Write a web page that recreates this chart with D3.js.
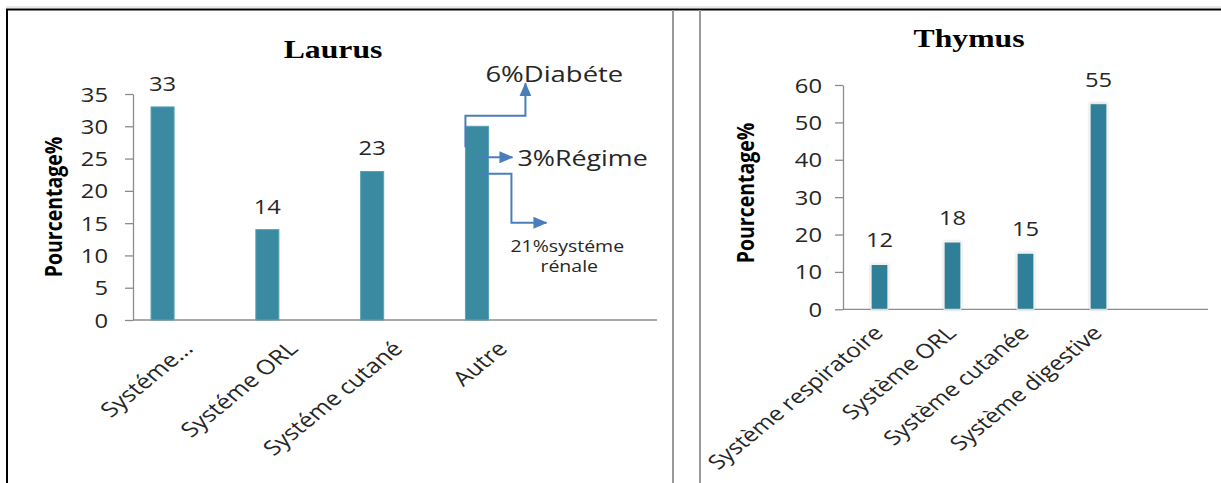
<!DOCTYPE html>
<html>
<head>
<meta charset="utf-8">
<script src="https://cdn.jsdelivr.net/npm/d3@7"></script>
<style>
  html, body { margin: 0; padding: 0; background: #fff; }
  svg { display: block; }
  .num { font-family: "Open Sans", "Noto Sans", sans-serif; fill: #262626; }
</style>
</head>
<body>
<svg id="chart" width="1221" height="483"></svg>
<script>
// Laurus: use by body system (%)
const laurusCategories = ["Systéme...", "Systéme ORL", "Systéme cutané", "Autre"];
const laurusValues = [33, 14, 23, 30];
const laurusTicks = [0, 5, 10, 15, 20, 25, 30, 35];

// Breakdown of the "Autre" share
const autreLabels = ["6%Diabéte", "3%Régime", "21%systéme", "rénale"];

// Thymus: use by body system (%)
const thymusCategories = ["Système respiratoire", "Système ORL", "Système cutanée", "Système digestive"];
const thymusValues = [12, 18, 15, 55];
const thymusTicks = [0, 10, 20, 30, 40, 50, 60];

const SX = 1.22; // horizontal text stretch
const svg = d3.select("#chart");

// arrowhead marker
const defs = svg.append("defs");
defs.append("marker")
  .attr("id", "arrow")
  .attr("viewBox", "0 0 14 12")
  .attr("refX", 13).attr("refY", 6)
  .attr("markerWidth", 14).attr("markerHeight", 12)
  .attr("markerUnits", "userSpaceOnUse")
  .attr("orient", "auto")
  .append("path").attr("d", "M0,0L14,6L0,12Z").attr("fill", "#4a7ebb");

const glow = defs.append("filter").attr("id", "glow")
  .attr("x", "-50%").attr("y", "-10%").attr("width", "200%").attr("height", "120%");
glow.append("feDropShadow").attr("dx", 0).attr("dy", 0).attr("stdDeviation", 1.3)
  .attr("flood-color", "#000").attr("flood-opacity", 0.28);

// page frame
svg.append("line").attr("x1", 6).attr("x2", 1221).attr("y1", 7).attr("y2", 7)
  .attr("stroke", "#d0d0d0").attr("stroke-width", 1);
svg.append("line").attr("x1", 6).attr("x2", 1221).attr("y1", 9.5).attr("y2", 9.5)
  .attr("stroke", "#000").attr("stroke-width", 2);
svg.append("line").attr("x1", 7).attr("x2", 7).attr("y1", 9).attr("y2", 483)
  .attr("stroke", "#000").attr("stroke-width", 2);
[673, 700].forEach(x => svg.append("line")
  .attr("x1", x).attr("x2", x).attr("y1", 10).attr("y2", 483)
  .attr("stroke", "#9a9a9a").attr("stroke-width", 2));

function panel(cfg) {
  const g = svg.append("g");
  const x = d3.scaleBand().domain(cfg.categories).range(cfg.xRange)
    .paddingInner(0).paddingOuter(0.5).align(0);
  const y = d3.scaleLinear().domain([0, cfg.max]).range(cfg.yRange);

  // title
  g.append("text")
    .attr("transform", `translate(${cfg.titleX},${cfg.titleY}) scale(${SX},1)`)
    .attr("text-anchor", "middle")
    .attr("font-family", "'Liberation Serif', 'Times New Roman', serif")
    .attr("font-weight", "bold").attr("font-size", 26).attr("fill", "#000")
    .text(cfg.title);

  // y axis
  const yAxis = g.append("g")
    .attr("transform", `translate(${cfg.xRange[0]},0)`)
    .call(d3.axisLeft(y).tickValues(cfg.ticks).tickSize(8).tickSizeOuter(0));
  yAxis.select(".domain").attr("stroke", "#8c8c8c").attr("stroke-width", 1.3);
  yAxis.selectAll(".tick line").attr("stroke", "#8c8c8c").attr("stroke-width", 1.3);
  yAxis.selectAll(".tick text")
    .attr("x", null).attr("dy", "0.36em")
    .attr("transform", `translate(${-cfg.tickGap},0) scale(${SX},1)`)
    .attr("class", "num").attr("font-size", 19.5).attr("text-anchor", "end");

  // x axis line
  g.append("line")
    .attr("x1", cfg.xRange[0]).attr("x2", cfg.xRange[1])
    .attr("y1", y(0)).attr("y2", y(0))
    .attr("stroke", "#8c8c8c").attr("stroke-width", 1.3);

  // y axis title
  g.append("text")
    .attr("transform", `translate(${cfg.yTitleX},${cfg.yTitleY}) scale(${SX},1) rotate(-90)`)
    .attr("text-anchor", "middle")
    .attr("font-family", "'Open Sans', sans-serif").attr("font-weight", "bold")
    .attr("font-size", 19.5).attr("fill", "#000")
    .text("Pourcentage%");

  const bw = x.bandwidth();
  const barX = c => x(c) + bw * cfg.barOffset;
  const barW = bw * cfg.barWidth;

  // bars
  g.selectAll("rect.bar").data(cfg.categories).join("rect")
    .attr("class", "bar")
    .attr("x", c => barX(c))
    .attr("y", (c, i) => y(cfg.values[i]))
    .attr("width", barW)
    .attr("height", (c, i) => y(0) - y(cfg.values[i]))
    .attr("fill", cfg.color)
    .attr("stroke", cfg.stroke).attr("stroke-width", 1)
    .attr("filter", cfg.glow ? "url(#glow)" : null);

  // value labels
  g.selectAll("text.val").data(cfg.categories).join("text")
    .attr("class", "val num")
    .attr("transform", (c, i) => `translate(${barX(c) + barW / 2},${y(cfg.values[i]) - cfg.labelGap}) scale(${SX},1)`)
    .attr("text-anchor", "middle").attr("font-size", 19.5)
    .text((c, i) => cfg.labelSkip.includes(i) ? "" : cfg.values[i]);

  // category labels
  g.selectAll("text.cat").data(cfg.categories).join("text")
    .attr("class", "cat num")
    .attr("transform", c => `translate(${x(c) + bw / 2 + cfg.catDx},${y(0) + cfg.catDy}) scale(${SX},1) rotate(-45)`)
    .attr("text-anchor", "end").attr("font-size", cfg.catSize)
    .text(c => c);

  return { x, y, barX, barW };
}

const L = panel({
  title: "Laurus", titleX: 333, titleY: 58,
  categories: laurusCategories, values: laurusValues, ticks: laurusTicks, max: 35,
  xRange: [133, 657], yRange: [320, 94], tickGap: 25,
  yTitleX: 62, yTitleY: 207,
  barOffset: 0.172, barWidth: 0.22, color: "#3a8ba1", stroke: "#5aa2b5", glow: false,
  labelGap: 16, labelSkip: [3], catDx: 9, catDy: 30, catSize: 20.5
});

panel({
  title: "Thymus", titleX: 969, titleY: 47,
  categories: thymusCategories, values: thymusValues, ticks: thymusTicks, max: 60,
  xRange: [843, 1208], yRange: [309.3, 85], tickGap: 21,
  yTitleX: 754, yTitleY: 193,
  barOffset: 0.385, barWidth: 0.23, color: "#2e7f97", stroke: "#f4f4f4", glow: true,
  labelGap: 17, labelSkip: [], catDx: 5, catDy: 25, catSize: 20
});

// arrows splitting the "Autre" bar
const ax = L.barX("Autre");
const barTop = L.y(laurusValues[3]);
const blue = "#4a7ebb";
const arrows = [
  [[ax, barTop + 21], [ax, barTop - 10.5], [ax + 60, barTop - 10.5], [ax + 60, barTop - 43]],
  [[ax + 13, barTop + 31], [ax + 47, barTop + 31]],
  [[ax + 13, barTop + 47.5], [ax + 46, barTop + 47.5], [ax + 46, barTop + 96.5], [ax + 81, barTop + 96.5]]
];
svg.selectAll("path.arrow").data(arrows).join("path")
  .attr("class", "arrow")
  .attr("d", d3.line())
  .attr("fill", "none").attr("stroke", blue).attr("stroke-width", 2)
  .attr("marker-end", "url(#arrow)");

const notes = [
  { t: autreLabels[0], dx: 20, dy: -44, s: 22.5 },
  { t: autreLabels[1], dx: 52, dy: 40, s: 22 },
  { t: autreLabels[2], dx: 45, dy: 126, s: 16 },
  { t: autreLabels[3], dx: 75, dy: 146, s: 16 }
];
svg.selectAll("text.note").data(notes).join("text")
  .attr("class", "note num")
  .attr("transform", d => `translate(${ax + d.dx},${barTop + d.dy}) scale(${SX},1)`)
  .attr("font-size", d => d.s)
  .text(d => d.t);
</script>
</body>
</html>
